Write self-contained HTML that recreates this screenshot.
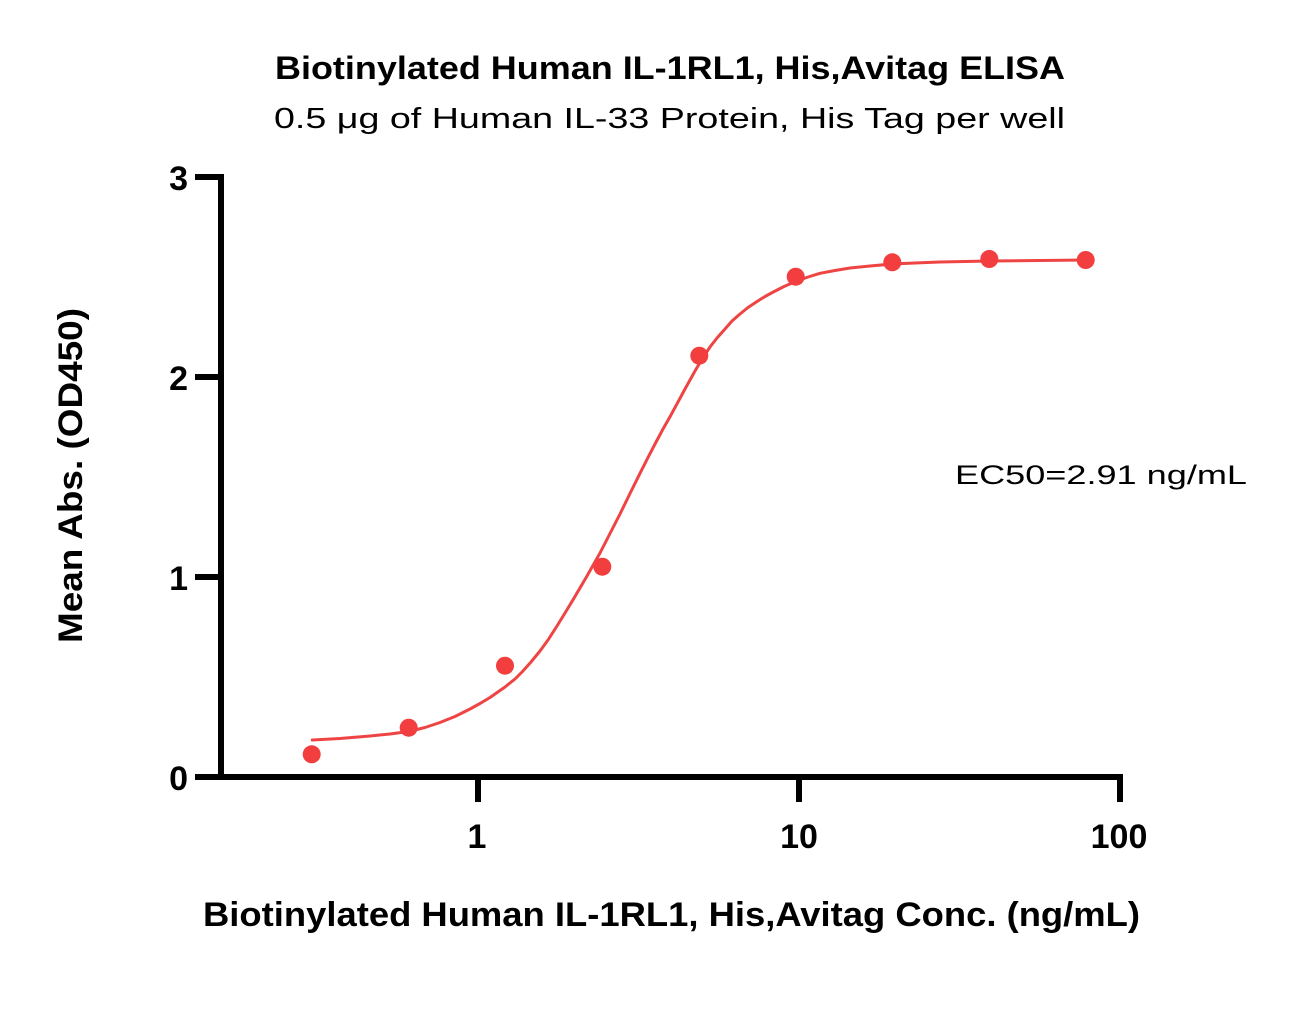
<!DOCTYPE html>
<html>
<head>
<meta charset="utf-8">
<style>
  html, body { margin: 0; padding: 0; background: #ffffff; }
  svg { display: block; }
  text { font-family: "Liberation Sans", "DejaVu Sans", sans-serif; fill: #000; }
</style>
</head>
<body>
<svg width="1292" height="1032" viewBox="0 0 1292 1032" xmlns="http://www.w3.org/2000/svg">
  <rect x="0" y="0" width="1292" height="1032" fill="#ffffff"/>

  <!-- Titles -->
  <text x="275" y="79" font-size="32" font-weight="bold" textLength="790" lengthAdjust="spacingAndGlyphs">Biotinylated Human IL-1RL1, His,Avitag ELISA</text>
  <text x="274" y="128" font-size="29" textLength="791" lengthAdjust="spacingAndGlyphs">0.5 μg of Human IL-33 Protein, His Tag per well</text>

  <!-- Axes -->
  <g stroke="#000" stroke-width="6" fill="none" stroke-linecap="butt">
    <line x1="221" y1="174" x2="221" y2="780"/>
    <line x1="195" y1="777" x2="1123" y2="777"/>
    <line x1="195" y1="177" x2="221" y2="177"/>
    <line x1="195" y1="377" x2="221" y2="377"/>
    <line x1="195" y1="577" x2="221" y2="577"/>
    <line x1="478" y1="777" x2="478" y2="802"/>
    <line x1="799" y1="777" x2="799" y2="802"/>
    <line x1="1120" y1="777" x2="1120" y2="802"/>
  </g>

  <!-- Y tick labels -->
  <g font-size="34" font-weight="bold" text-anchor="end">
    <text x="188" y="190">3</text>
    <text x="188" y="390">2</text>
    <text x="188" y="590">1</text>
    <text x="188" y="790">0</text>
  </g>

  <!-- X tick labels -->
  <g font-size="34" font-weight="bold" text-anchor="middle">
    <text x="477" y="848">1</text>
    <text x="799" y="848">10</text>
    <text x="1119" y="848">100</text>
  </g>

  <!-- Axis titles -->
  <text x="203" y="926" font-size="34" font-weight="bold" textLength="937" lengthAdjust="spacingAndGlyphs">Biotinylated Human IL-1RL1, His,Avitag Conc. (ng/mL)</text>
  <text transform="translate(82,475.5) rotate(-90)" x="0" y="0" font-size="34" font-weight="bold" text-anchor="middle" textLength="335" lengthAdjust="spacingAndGlyphs">Mean Abs. (OD450)</text>

  <!-- EC50 annotation -->
  <text x="955" y="484" font-size="27" textLength="292" lengthAdjust="spacingAndGlyphs">EC50=2.91 ng/mL</text>

  <!-- Fitted curve -->
  <polyline fill="none" stroke="#ee4444" stroke-width="3" stroke-linejoin="round" stroke-linecap="round"
    points="312.3,740 340,738.5 370,736 390,734 408.7,731.5 425,727.5 440,722.5 455,716.5 470,709 480,703.5 490,697.5 505,687 515,679 522,672 531,662 540,651 548,640 557,626 565,613 573.3,599.3 587,576 600,553 610,533.5 620,514 630,493.5 640,473.3 648,457.5 655,444 663,429 670,416.7 678,402 685,389 690,380 695,371 700,362.5 705,354.5 710,347 717,338 725,329 732,321 740,314 748,307.5 757,301.5 765,296.5 773.3,292 784,286.5 795.7,281.5 808,277 820,273.3 835,270.5 850,268 870,266 892,264 915,263 940,262 965,261.5 989,261 1040,260.5 1085.7,260"/>

  <!-- Data points -->
  <g fill="#f23e3e">
    <circle cx="311.7" cy="754.3" r="9"/>
    <circle cx="408.7" cy="727.7" r="9"/>
    <circle cx="505" cy="665.7" r="9"/>
    <circle cx="602.3" cy="566.7" r="9"/>
    <circle cx="699.3" cy="355.7" r="9"/>
    <circle cx="795.7" cy="276.7" r="9"/>
    <circle cx="892.3" cy="262.3" r="9"/>
    <circle cx="989.3" cy="259" r="9"/>
    <circle cx="1085.7" cy="260" r="9"/>
  </g>
</svg>
</body>
</html>
